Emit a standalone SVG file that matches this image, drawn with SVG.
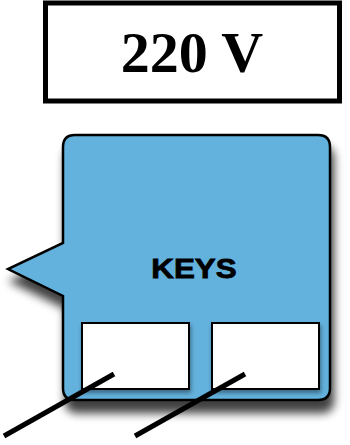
<svg xmlns="http://www.w3.org/2000/svg" width="350" height="445" viewBox="0 0 350 445">
<style>
.lbl{font-family:"Liberation Serif","Times New Roman",serif;font-weight:bold;fill:#000}
.keys{font-family:"Liberation Sans",Arial,sans-serif;font-weight:bold;fill:#000;stroke:#000;stroke-width:0.8}
.wire{stroke:#000;stroke-width:5;fill:none}
.key{fill:#fff;stroke:#000;stroke-width:2}
</style>
<defs>
<filter id="shadow" x="-20%" y="-20%" width="150%" height="150%">
<feGaussianBlur in="SourceAlpha" stdDeviation="5"/>
<feOffset dx="3" dy="12" result="b"/>
<feComponentTransfer><feFuncA type="linear" slope="0.75"/></feComponentTransfer>
<feMerge><feMergeNode/><feMergeNode in="SourceGraphic"/></feMerge>
</filter>
<filter id="small" x="-20%" y="-20%" width="140%" height="140%">
<feGaussianBlur in="SourceAlpha" stdDeviation="2"/>
<feOffset dx="1" dy="3"/>
<feComponentTransfer><feFuncA type="linear" slope="0.4"/></feComponentTransfer>
<feMerge><feMergeNode/><feMergeNode in="SourceGraphic"/></feMerge>
</filter>
</defs>
<g id="voltage">
<rect x="45.5" y="3" width="294" height="98" fill="#fff" stroke="#000" stroke-width="5"/>
<text class="lbl" x="192" y="72" font-size="58" text-anchor="middle">220 V</text>
</g>
<g id="keys">
<path d="M75,135 H318 Q330,135 330,147 V388 Q330,400 318,400 H75 Q63,400 63,388 V296 L8,269 L63,243 V147 Q63,135 75,135 Z" fill="#63b1dd" stroke="#000" stroke-width="2.5" stroke-linejoin="miter" filter="url(#shadow)"/>
<text class="keys" transform="translate(194,278) scale(1.12,1)" x="0" y="0" font-size="28" text-anchor="middle">KEYS</text>
<rect id="key1" class="key" x="82" y="323" width="107" height="66" filter="url(#small)"/>
<rect id="key2" class="key" x="212" y="323" width="107" height="66" filter="url(#small)"/>
</g>
<g id="connectors">
<line class="wire" x1="4" y1="436" x2="114" y2="374"/>
<line class="wire" x1="135" y1="436" x2="245" y2="374"/>
</g>
</svg>
